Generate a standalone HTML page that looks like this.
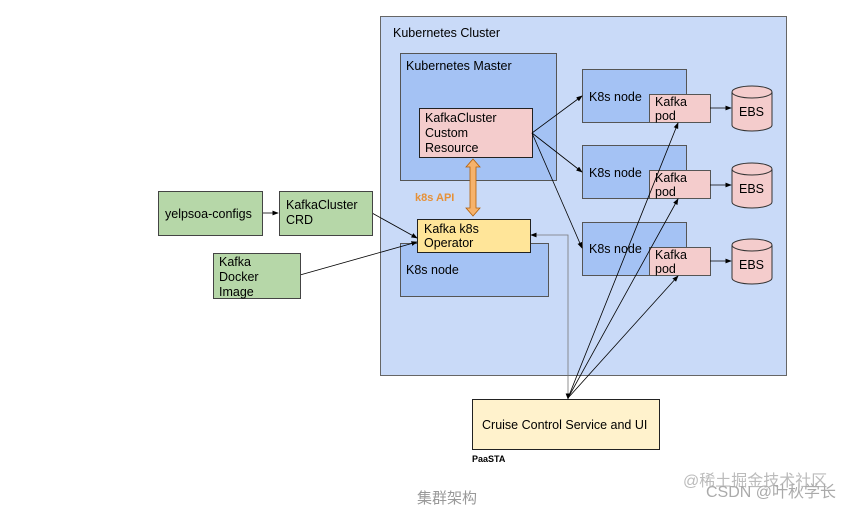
<!DOCTYPE html><html><head><meta charset="utf-8"><style>body{margin:0;background:#fff}svg{display:block}text{font-family:"Liberation Sans","Noto Sans CJK SC",sans-serif}</style></head><body>
<svg width="860" height="509" viewBox="0 0 860 509" xmlns="http://www.w3.org/2000/svg">
<defs><marker id="a" markerWidth="8" markerHeight="6" refX="7" refY="3" orient="auto"><path d="M0,0L8,3L0,6z" fill="#000"/></marker></defs>
<rect x="380.5" y="16.5" width="406" height="359" fill="#c9daf8" stroke="#666"/>
<text x="393" y="37" font-size="12.5">Kubernetes Cluster</text>
<rect x="400.5" y="53.5" width="156" height="127" fill="#a4c2f4" stroke="#555"/>
<text x="406" y="70" font-size="12.5">Kubernetes Master</text>
<rect x="419.5" y="108.5" width="113" height="49" fill="#f4cccc" stroke="#222"/>
<text font-size="12.5"><tspan x="425" y="122">KafkaCluster</tspan><tspan x="425" y="137">Custom</tspan><tspan x="425" y="152">Resource</tspan></text>
<rect x="400.5" y="243.5" width="148" height="53" fill="#a4c2f4" stroke="#555"/>
<text x="406" y="274" font-size="12.5">K8s node</text>
<rect x="417.5" y="219.5" width="113" height="33" fill="#ffe599" stroke="#222"/>
<text font-size="12.5"><tspan x="424" y="233">Kafka k8s</tspan><tspan x="424" y="247">Operator</tspan></text>
<path d="M473,159 L480,167 L476,167 L476,208 L480,208 L473,216 L466,208 L470,208 L470,167 L466,167 Z" fill="#f6b26b" stroke="#b45f06" stroke-width="0.8"/>
<text x="415" y="201" font-size="11" font-weight="bold" fill="#e69138">k8s API</text>
<g font-size="12.5">
<rect x="582.5" y="69.5" width="104" height="53" fill="#a4c2f4" stroke="#555"/><text x="589" y="101">K8s node</text>
<rect x="649.5" y="94.5" width="61" height="28" fill="#f4cccc" stroke="#555"/><text><tspan x="655" y="106">Kafka</tspan><tspan x="655" y="120">pod</tspan></text>
<rect x="582.5" y="145.5" width="104" height="53" fill="#a4c2f4" stroke="#555"/><text x="589" y="177">K8s node</text>
<rect x="649.5" y="170.5" width="61" height="28" fill="#f4cccc" stroke="#555"/><text><tspan x="655" y="182">Kafka</tspan><tspan x="655" y="196">pod</tspan></text>
<rect x="582.5" y="222.5" width="104" height="53" fill="#a4c2f4" stroke="#555"/><text x="589" y="253">K8s node</text>
<rect x="649.5" y="247.5" width="61" height="28" fill="#f4cccc" stroke="#555"/><text><tspan x="655" y="259">Kafka</tspan><tspan x="655" y="273">pod</tspan></text>
</g>
<g fill="#f4cccc" stroke="#333">
<path d="M732,92 v33 a20,6 0 0 0 40,0 v-33"/><ellipse cx="752" cy="92" rx="20" ry="6"/>
<path d="M732,169 v33 a20,6 0 0 0 40,0 v-33"/><ellipse cx="752" cy="169" rx="20" ry="6"/>
<path d="M732,245 v33 a20,6 0 0 0 40,0 v-33"/><ellipse cx="752" cy="245" rx="20" ry="6"/>
</g>
<g font-size="12.5"><text x="739" y="116">EBS</text><text x="739" y="193">EBS</text><text x="739" y="269">EBS</text></g>
<g stroke="#000" stroke-width="0.8" fill="none" marker-end="url(#a)">
<line x1="710" y1="108" x2="731" y2="108"/><line x1="710" y1="185" x2="731" y2="185"/><line x1="710" y1="261" x2="731" y2="261"/>
<line x1="532" y1="133" x2="582" y2="96"/><line x1="532" y1="133" x2="582" y2="172"/><line x1="532" y1="133" x2="582" y2="248"/>
<polyline points="568,398 568,235 531,235" stroke="#777"/>
<line x1="568" y1="395" x2="568" y2="399"/>
<line x1="568" y1="398" x2="678" y2="123"/><line x1="568" y1="398" x2="678" y2="199"/><line x1="568" y1="398" x2="678" y2="276"/>
<line x1="262" y1="213" x2="278" y2="213"/>
<line x1="372" y1="213" x2="417" y2="238"/><line x1="300" y1="275" x2="417" y2="242"/>
</g>
<rect x="158.5" y="191.5" width="104" height="44" fill="#b6d7a8" stroke="#444"/><text x="165" y="218" font-size="12.5">yelpsoa-configs</text>
<rect x="279.5" y="191.5" width="93" height="44" fill="#b6d7a8" stroke="#444"/><text font-size="12.5"><tspan x="286" y="209">KafkaCluster</tspan><tspan x="286" y="224">CRD</tspan></text>
<rect x="213.5" y="253.5" width="87" height="45" fill="#b6d7a8" stroke="#444"/><text font-size="12.5"><tspan x="219" y="266">Kafka</tspan><tspan x="219" y="281">Docker</tspan><tspan x="219" y="296">Image</tspan></text>
<rect x="472.5" y="399.5" width="187" height="50" fill="#fff2cc" stroke="#222"/>
<text x="482" y="429" font-size="12.5">Cruise Control Service and UI</text>
<text x="472" y="462" font-size="9" font-weight="bold">PaaSTA</text>
<text x="417" y="503" font-size="15" fill="#999">集群架构</text>
<text x="683" y="486" font-size="16" fill="#bbb">@稀土掘金技术社区</text>
<text x="706" y="497" font-size="16" fill="#aaa">CSDN @叶秋学长</text>
</svg></body></html>
